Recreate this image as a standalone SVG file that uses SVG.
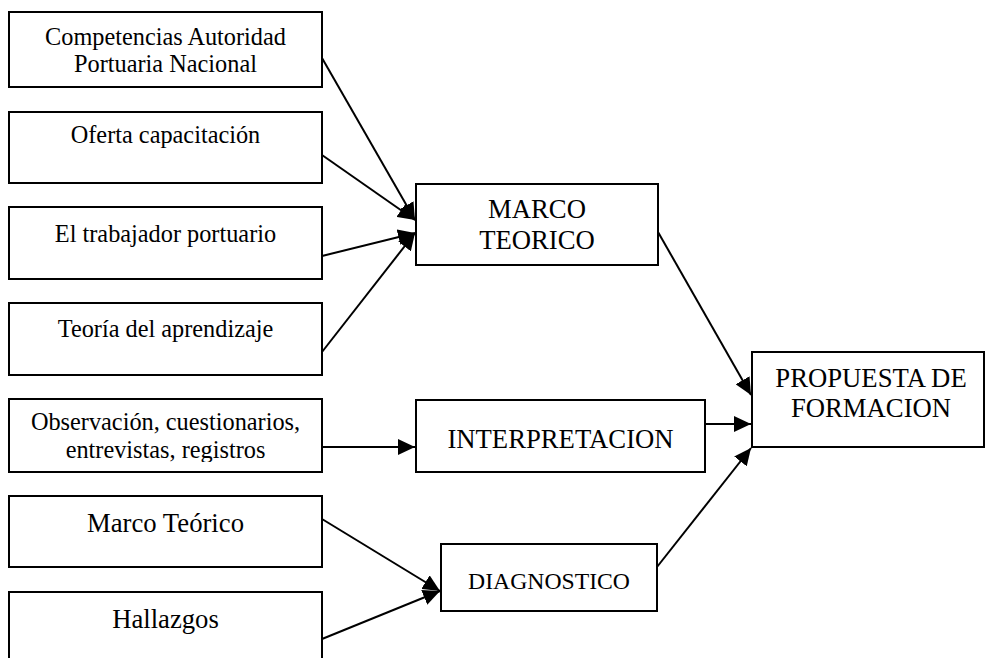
<svg xmlns="http://www.w3.org/2000/svg" width="986" height="658" viewBox="0 0 986 658">
<style>
.box{fill:#fff;stroke:#000;stroke-width:2}
text{font-family:'Liberation Serif','Times New Roman',serif;fill:#000;text-anchor:middle}
.s{font-size:24.3px}
.m{font-size:26.7px}
.d{font-size:23.7px}
.c{stroke:#000;stroke-width:2;fill:none;marker-end:url(#ah)}
</style>
<defs>
<marker id="ah" markerUnits="userSpaceOnUse" markerWidth="18" markerHeight="16" refX="17" refY="8" orient="auto">
<path d="M0,0 L17,8 L0,16 z" fill="#000"/>
</marker>
<clipPath id="clip5"><rect x="9" y="399" width="313" height="63"/></clipPath>
</defs>
<g id="n1"><rect class="box" x="9" y="12" width="313" height="75"/><text class="s" x="165.5" y="45">Competencias Autoridad</text><text class="s" x="165.5" y="72">Portuaria Nacional</text></g>
<g id="n2"><rect class="box" x="9" y="112" width="313" height="71"/><text class="s" x="165.5" y="143">Oferta capacitación</text></g>
<g id="n3"><rect class="box" x="9" y="207" width="313" height="72"/><text class="s" x="165.5" y="242">El trabajador portuario</text></g>
<g id="n4"><rect class="box" x="9" y="303" width="313" height="72"/><text class="s" x="165.5" y="337">Teoría del aprendizaje</text></g>
<g id="n5"><rect class="box" x="9" y="399" width="313" height="73"/><g clip-path="url(#clip5)"><text class="s" x="165.5" y="430">Observación, cuestionarios,</text><text class="s" x="165.5" y="458">entrevistas, registros</text></g></g>
<g id="n6"><rect class="box" x="9" y="496" width="313" height="71"/><text class="m" x="165.5" y="532">Marco Teórico</text></g>
<g id="n7"><rect class="box" x="9" y="592" width="313" height="80"/><text class="m" x="165.5" y="628">Hallazgos</text></g>
<g id="marco"><rect class="box" x="416" y="184" width="242" height="81"/><text class="m" x="537" y="218">MARCO</text><text class="m" x="537" y="249">TEORICO</text></g>
<g id="interp"><rect class="box" x="416" y="400" width="289" height="72"/><text class="m" x="560.5" y="448">INTERPRETACION</text></g>
<g id="diag"><rect class="box" x="441" y="544" width="216" height="67"/><text class="d" x="549" y="589">DIAGNOSTICO</text></g>
<g id="prop"><rect class="box" x="752" y="352" width="232" height="95"/><text class="m" x="871" y="387">PROPUESTA DE</text><text class="m" x="871" y="417">FORMACION</text></g>
<g id="connectors">
<line class="c" x1="322" y1="58" x2="415" y2="220"/>
<line class="c" x1="322" y1="155" x2="415" y2="220"/>
<line class="c" x1="322" y1="256" x2="415" y2="233"/>
<line class="c" x1="322" y1="352" x2="415" y2="233"/>
<line class="c" x1="322" y1="447" x2="415" y2="447"/>
<line class="c" x1="322" y1="519" x2="440" y2="591"/>
<line class="c" x1="322" y1="639" x2="440" y2="591"/>
<line class="c" x1="658" y1="232" x2="751" y2="395"/>
<line class="c" x1="705" y1="424" x2="751" y2="424"/>
<line class="c" x1="657" y1="567" x2="751" y2="448"/>
</g>
</svg>
